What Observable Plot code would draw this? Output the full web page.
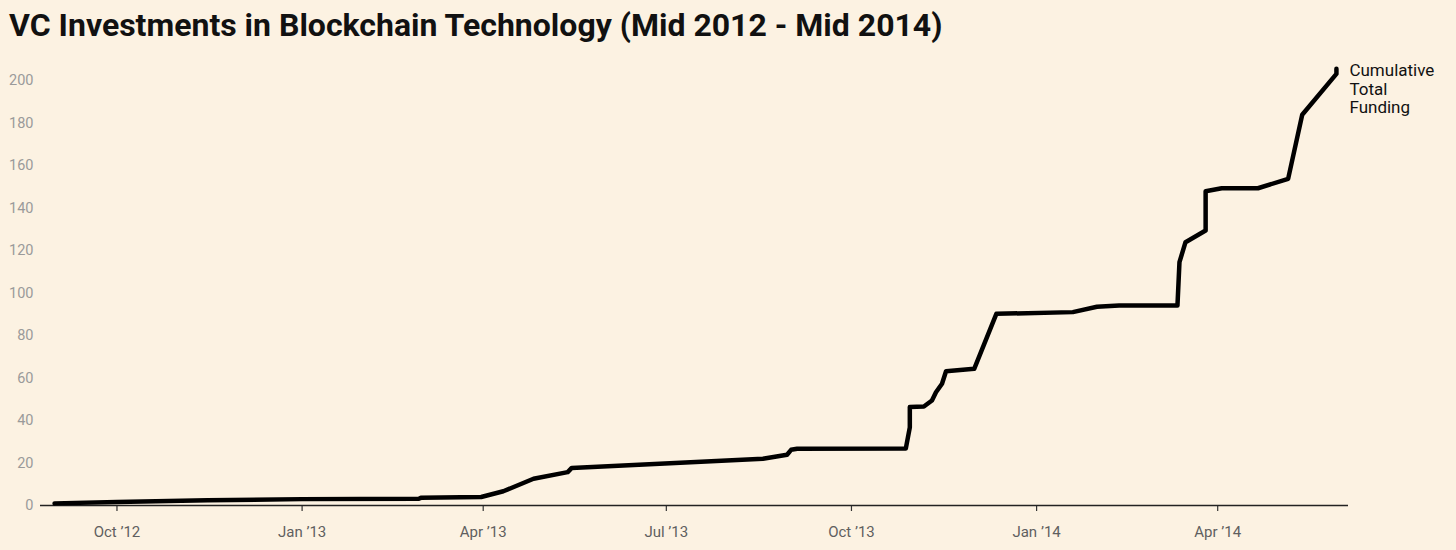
<!DOCTYPE html>
<html><head><meta charset="utf-8">
<script src="https://cdn.jsdelivr.net/npm/d3@7"></script>
<script src="https://cdn.jsdelivr.net/npm/@observablehq/plot@0.6"></script>
<style>
html,body{margin:0;padding:0;background:#fcf2e2;}
body{width:1456px;height:550px;overflow:hidden;position:relative;font-family:Roboto,sans-serif;}
#title{position:absolute;left:9px;top:9px;font:700 32px Roboto;color:#111;line-height:1;white-space:nowrap;}
#chart{position:absolute;left:0;top:55px;}
</style></head><body>
<div id="title">VC Investments in Blockchain Technology (Mid 2012 - Mid 2014)</div>
<div id="chart"></div>
<script>
const dates = ["2012-08-31","2012-10-01","2012-11-15","2013-01-01","2013-02-28","2013-03-01","2013-03-31","2013-04-11","2013-04-26","2013-05-13","2013-05-15","2013-08-18","2013-08-30","2013-09-01","2013-09-04","2013-10-28","2013-10-30","2013-10-30","2013-11-06","2013-11-10","2013-11-12","2013-11-15","2013-11-17","2013-12-01","2013-12-12","2014-01-19","2014-01-31","2014-02-11","2014-03-12","2014-03-13","2014-03-16","2014-03-26","2014-03-26","2014-04-03","2014-04-21","2014-05-06","2014-05-13","2014-05-30","2014-05-30"];
const values = [1.0,1.7,2.5,3.0,3.2,3.6,4.0,6.7,12.6,15.7,17.7,22.0,23.9,26.2,26.7,26.8,36.8,46.3,46.6,49.4,53.3,57.3,63.2,64.3,90.2,91.0,93.5,94.1,94.1,114.5,123.9,129.4,147.9,149.3,149.3,153.7,183.9,203.1,205.5];
const seriesLabel = "Cumulative\nTotal\nFunding";
const xTickDates = ["2012-10-01","2013-01-01","2013-04-01","2013-07-01","2013-10-01","2014-01-01","2014-04-01"];
const xTickLabels = ["Oct ’12","Jan ’13","Apr ’13","Jul ’13","Oct ’13","Jan ’14","Apr ’14"];
const yTicks = [0,20,40,60,80,100,120,140,160,180,200];
const xDomain = ["2012-08-24","2014-06-05"];

const data = dates.map((d, i) => ({date: new Date(d), value: values[i]}));
const last = data[data.length - 1];
const tickDates = xTickDates.map(d => new Date(d));
const labelOf = new Map(tickDates.map((d, i) => [+d, xTickLabels[i]]));

const chart = Plot.plot({
  width: 1456,
  height: 495,
  marginLeft: 40,
  marginRight: 108,
  marginTop: 25,
  marginBottom: 45,
  style: {background: "transparent", fontFamily: "Roboto", fontSize: "14px"},
  x: {type: "utc", domain: xDomain.map(d => new Date(d))},
  y: {domain: [0, 200]},
  marks: [
    Plot.axisY({ticks: yTicks, tickSize: 0, tickPadding: 7, fill: "#9a9a9a", fontSize: 14.5, label: null}),
    Plot.axisX({ticks: tickDates, tickSize: 6, tickPadding: 15, stroke: "#333", strokeWidth: 1.2, fill: "#5f5f5f", fontSize: 15, label: null, tickFormat: d => labelOf.get(+d)}),
    Plot.ruleY([0], {stroke: "#222", strokeWidth: 1.5}),
    Plot.line(data, {x: "date", y: "value", stroke: "#000", strokeWidth: 4.5}),
    Plot.text([last], {x: "date", y: "value", text: () => seriesLabel, textAnchor: "start", lineAnchor: "top", lineHeight: 1.1, dx: 13, dy: -6, fontSize: 17, fill: "#111"})
  ]
});
document.getElementById("chart").appendChild(chart);
</script>
</body></html>
